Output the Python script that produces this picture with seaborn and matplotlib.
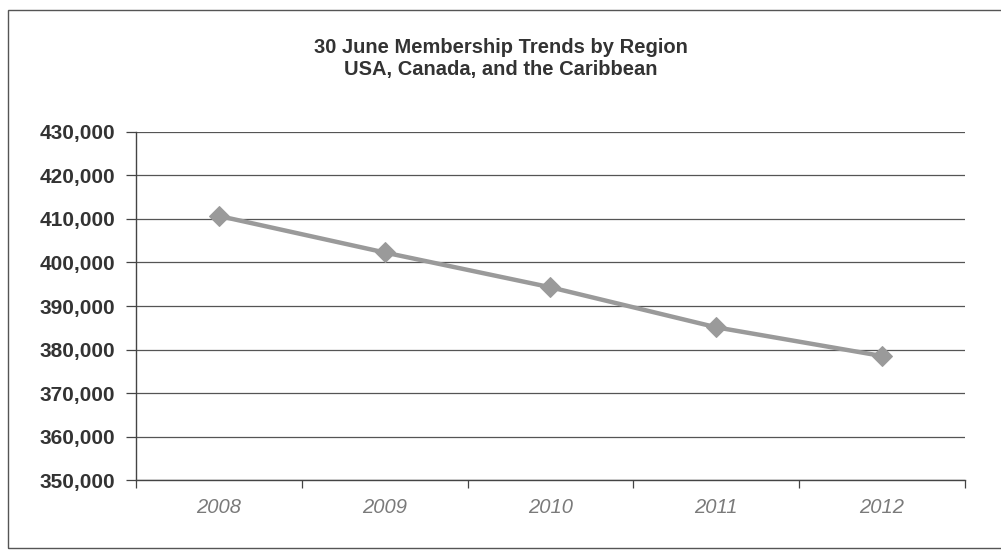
import matplotlib
matplotlib.use("Agg")
import matplotlib.pyplot as plt
import seaborn as sns
import pandas as pd
from matplotlib.patches import Rectangle
from matplotlib.ticker import FuncFormatter

years = ["2008", "2009", "2010", "2011", "2012"]
members = [410700, 402300, 394300, 385100, 378500]
y_ticks = [350000, 360000, 370000, 380000, 390000, 400000, 410000, 420000, 430000]

sns.set_theme(style="white")
plt.rcParams['font.family'] = ['Liberation Sans', 'DejaVu Sans']

df = pd.DataFrame({"year": years, "members": members})

fig = plt.figure(figsize=(10.01, 5.52), dpi=100)
ax = fig.add_axes([0.1359, 0.1304, 0.8281, 0.6305])

sns.lineplot(data=df, x="year", y="members", ax=ax, color="#9a9a9a",
             linewidth=3.2, marker="D", markersize=10, markeredgecolor="#9a9a9a",
             sort=False)

ax.set_xlim(-0.5, 4.5)
ax.set_ylim(350000, 430000)
ax.set_yticks(y_ticks)
ax.yaxis.set_major_formatter(FuncFormatter(lambda v, p: f"{int(v):,}"))
ax.yaxis.grid(True, color="#555555", linewidth=0.9)
ax.set_axisbelow(True)
ax.set_xlabel("")
ax.set_ylabel("")

for s in ["top", "right"]:
    ax.spines[s].set_visible(False)
for s in ["left", "bottom"]:
    ax.spines[s].set_color("#444444")
    ax.spines[s].set_linewidth(1.0)

ax.tick_params(axis="y", which="major", length=7, width=0.9, color="#444444",
               left=True, pad=8, labelsize=15, labelcolor="#333333")
for lbl in ax.get_yticklabels():
    lbl.set_fontweight("bold")

ax.set_xticks([0, 1, 2, 3, 4])
ax.set_xticklabels(years, fontsize=14.5, style="italic", color="#7a7a7a")
ax.set_xticks([-0.5, 0.5, 1.5, 2.5, 3.5, 4.5], minor=True)
ax.tick_params(axis="x", which="major", length=0, pad=13)
ax.tick_params(axis="x", which="minor", length=6, width=0.9, color="#444444", bottom=True)

fig.text(0.5005, 0.894, "30 June Membership Trends by Region\nUSA, Canada, and the Caribbean",
         ha="center", va="center", fontsize=14.5, fontweight="bold", color="#333333",
         linespacing=1.2)

fig.patches.append(Rectangle((0.008, 0.007), 1.2, 0.975, transform=fig.transFigure,
                             fill=False, edgecolor="#555555", linewidth=1.0))

fig.savefig("out.png", dpi=100)
